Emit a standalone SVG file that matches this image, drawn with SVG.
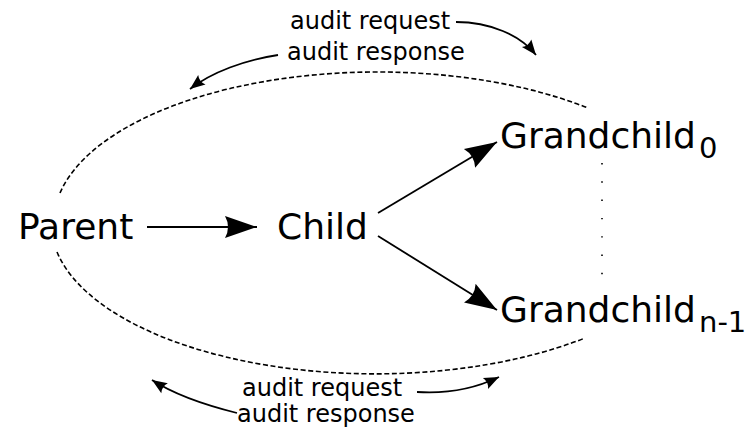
<svg xmlns="http://www.w3.org/2000/svg" width="756" height="428" viewBox="0 0 756 428">
<style>
text{font-family:"DejaVu Sans","Liberation Sans",sans-serif;fill:#000}
.node{font-size:36px}
.sub{font-size:29px}
.lbl{font-size:24px}
.edge{fill:none;stroke:#000;stroke-width:1.8}
.ell{fill:none;stroke:#000;stroke-width:1.6;stroke-dasharray:5,2.6}
.dots{fill:none;stroke:#000;stroke-width:1.6;stroke-dasharray:1.4,16.9}
</style>
<defs>
<marker id="big" markerUnits="userSpaceOnUse" orient="auto" markerWidth="40" markerHeight="30" refX="34" refY="12" overflow="visible">
<path d="M34,12 L2,1 Q8,12 2,23 Z" fill="#000"/>
</marker>
<marker id="small" markerUnits="userSpaceOnUse" orient="auto" markerWidth="20" markerHeight="14" refX="16" refY="6.5" overflow="visible">
<path d="M16,6.5 L1,0.5 Q4.5,6.5 1,12.5 Z" fill="#000"/>
</marker>
</defs>
<g id="connectors">
<path class="ell" d="M60,193 A324,150.5 0 0 1 588,108"/>
<path class="ell" d="M57,252 A324,150.5 0 0 0 585,338"/>
<path class="edge" d="M147,227 L257,227" marker-end="url(#big)"/>
<path class="edge" d="M378,213 L497,142" marker-end="url(#big)"/>
<path class="edge" d="M378,236 L497,310" marker-end="url(#big)"/>
<path class="dots" d="M602,163 L602,290"/>
<path class="edge" d="M456,22 C490,22 520,35 536,55" marker-end="url(#small)"/>
<path class="edge" d="M278,55 C245,60 212,72 190,89" marker-end="url(#small)"/>
<path class="edge" d="M417,392 C447,394 476,388 499,377" marker-end="url(#small)"/>
<path class="edge" d="M237,413 C205,405 175,395 152,380" marker-end="url(#small)"/>
</g>
<g id="parent"><text class="node" x="18" y="239">Parent</text></g>
<g id="child"><text class="node" x="277" y="239">Child</text></g>
<g id="grandchild0"><text class="node" x="500" y="148">Grandchild</text><text class="sub" x="699" y="158">0</text></g>
<g id="grandchildn1"><text class="node" x="500" y="322">Grandchild</text><text class="sub" x="699" y="332">n-1</text></g>
<g id="top-labels">
<text class="lbl" x="290" y="29">audit request</text>
<text class="lbl" x="287" y="60">audit response</text>
</g>
<g id="bottom-labels">
<text class="lbl" x="242" y="396">audit request</text>
<text class="lbl" x="237" y="422">audit response</text>
</g>
</svg>
